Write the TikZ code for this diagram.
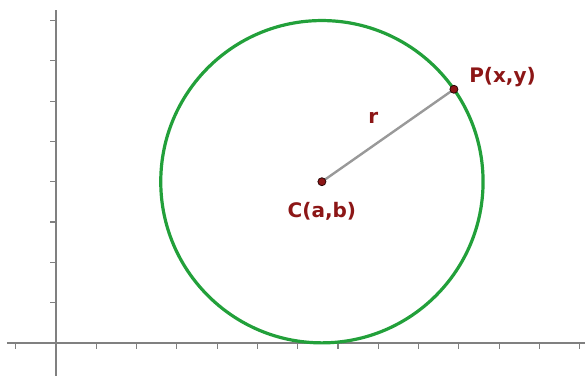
\documentclass[tikz,border=0pt]{standalone}
\usepackage{fontspec}
\setmainfont{DejaVu Sans}
\usepackage{xcolor}
\usepackage{tikz}
\usetikzlibrary{positioning}

\definecolor{ringgreen}{RGB}{34,160,58}
\definecolor{darkred}{RGB}{140,22,22}
\definecolor{axisgray}{RGB}{128,128,128}

\begin{document}
\begin{tikzpicture}[
    x=30.225pt, y=30.225pt,
    axis/.style={draw=axisgray, line width=1.4pt},
    tick/.style={draw=axisgray, line width=0.8pt},
    ring/.style={draw=ringgreen, line width=2.4pt},
    radius line/.style={draw=gray!80, line width=1.8pt},
    dot/.style={circle, draw=black!70!darkred, fill=darkred, line width=0.6pt, inner sep=0pt, minimum size=6pt},
    lbl/.style={text=darkred, font=\bfseries\fontsize{15}{17}\selectfont, inner sep=0pt}
]
\useasboundingbox (-1.39,-0.82) rectangle (13.13,8.51);

% Axes
\draw [axis] (-1.22,0) -- (13.13,0);
\draw [axis] (0,8.26) -- (0,-0.82);

% Ticks
\foreach \k in {-1,1,2,...,13} {
    \draw [tick] (\k,0) -- (\k,-0.14);
}
\foreach \k in {1,...,8} {
    \draw [tick] (0,\k) -- (-0.14,\k);
}

% Circle and radius
\coordinate (cen) at (6.6,4);
\path (cen) ++(35:4) coordinate (pt);
\draw [ring] (cen) circle (4);
\draw [radius line] (cen) -- (pt) node [lbl, pos=0.39, yshift=21pt] (lr) {r};

% Points
\node [dot] (pC) at (cen) {};
\node [dot] (pP) at (pt) {};

% Labels
\node [lbl, right=8pt of pP, yshift=9pt] (lP) {P(x,y)};
\node [lbl, below=12pt of pC] (lC) {C(a,b)};

\end{tikzpicture}
\end{document}
